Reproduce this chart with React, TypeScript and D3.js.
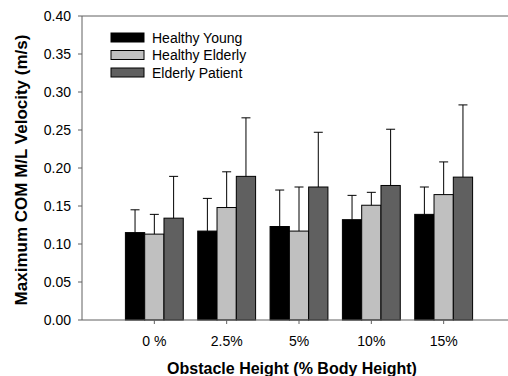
import React from "react";
import * as d3 from "d3";

const categories = ["0 %", "2.5%", "5%", "10%", "15%"];
const seriesNames = ["Healthy Young", "Healthy Elderly", "Elderly Patient"];
const seriesColors = ["#000000", "#c0c0c0", "#606060"];
const healthyYoung = [0.115, 0.117, 0.123, 0.132, 0.139];
const healthyYoungSD = [0.030, 0.043, 0.048, 0.032, 0.036];
const healthyElderly = [0.113, 0.148, 0.117, 0.151, 0.165];
const healthyElderlySD = [0.026, 0.047, 0.058, 0.017, 0.043];
const elderlyPatient = [0.134, 0.189, 0.175, 0.177, 0.188];
const elderlyPatientSD = [0.055, 0.077, 0.072, 0.074, 0.095];
const yTicks = [0, 0.05, 0.1, 0.15, 0.2, 0.25, 0.3, 0.35, 0.4];

const W = 508;
const H = 376;
const FONT = "Arial, 'Liberation Sans', sans-serif";

export default function App() {
  const values = [healthyYoung, healthyElderly, elderlyPatient];
  const sds = [healthyYoungSD, healthyElderlySD, elderlyPatientSD];

  // categories sit at 1..5 on a 0..6 axis; right end is cropped by the image
  const x = d3.scaleLinear().domain([0, 6]).range([82, 516]);
  const y = d3.scaleLinear().domain([0, 0.4]).range([320, 16]);
  const step = x(1) - x(0);
  const group = d3
    .scaleBand()
    .domain(seriesNames)
    .range([-step * 0.4, step * 0.4])
    .padding(0);
  const bw = group.bandwidth();

  return (
    <svg
      width={W}
      height={H}
      style={{ position: "absolute", left: 0, top: 0, background: "#fff" }}
      fontFamily={FONT}
    >
      {/* bars */}
      {values.map((vals, s) =>
        vals.map((v, i) => {
          const x0 = x(i + 1) + (group(seriesNames[s]) as number);
          return (
            <rect
              key={`b${s}-${i}`}
              x={x0}
              y={y(v)}
              width={bw}
              height={y(0) - y(v)}
              fill={seriesColors[s]}
              stroke="#000"
              strokeWidth={1}
            />
          );
        })
      )}
      {/* error bars (upper only) */}
      {values.map((vals, s) =>
        vals.map((v, i) => {
          const cx = x(i + 1) + (group(seriesNames[s]) as number) + bw / 2;
          const top = y(v + sds[s][i]);
          return (
            <g key={`e${s}-${i}`} stroke="#000" strokeWidth={1}>
              <line x1={cx} x2={cx} y1={y(v)} y2={top} />
              <line x1={cx - 4.5} x2={cx + 4.5} y1={top} y2={top} />
            </g>
          );
        })
      )}
      {/* frame */}
      <line x1={82} x2={W} y1={16} y2={16} stroke="#606060" strokeWidth={1} />
      <line x1={82} x2={W} y1={320} y2={320} stroke="#606060" strokeWidth={1} />
      <line x1={82} x2={82} y1={16} y2={320} stroke="#606060" strokeWidth={1} />
      {/* y ticks */}
      {yTicks.map((t) => (
        <g key={`yt${t}`}>
          <line x1={78} x2={82} y1={y(t)} y2={y(t)} stroke="#606060" />
          <text
            x={71}
            y={y(t)}
            dy="0.36em"
            textAnchor="end"
            fontSize={14}
            fill="#000"
          >
            {d3.format(".2f")(t)}
          </text>
        </g>
      ))}
      {/* x ticks */}
      {categories.map((c, i) => (
        <g key={`xt${c}`}>
          <line x1={x(i + 1)} x2={x(i + 1)} y1={320} y2={324} stroke="#606060" />
          <text x={x(i + 1)} y={346} textAnchor="middle" fontSize={14} fill="#000">
            {c}
          </text>
        </g>
      ))}
      {/* axis titles */}
      <text x={292} y={374} textAnchor="middle" fontSize={16} fontWeight="bold">
        Obstacle Height (% Body Height)
      </text>
      <text
        transform={`translate(21,170) rotate(-90)`}
        textAnchor="middle"
        dy="0.36em"
        fontSize={17}
        fontWeight="bold"
      >
        Maximum COM M/L Velocity (m/s)
      </text>
      {/* legend */}
      {seriesNames.map((n, s) => (
        <g key={`l${n}`} transform={`translate(111,${37.5 + s * 17.5})`}>
          <rect
            x={0}
            y={-4.5}
            width={33}
            height={9}
            fill={seriesColors[s]}
            stroke="#000"
            strokeWidth={1}
          />
          <text x={41} y={5} fontSize={14}>
            {n}
          </text>
        </g>
      ))}
    </svg>
  );
}
